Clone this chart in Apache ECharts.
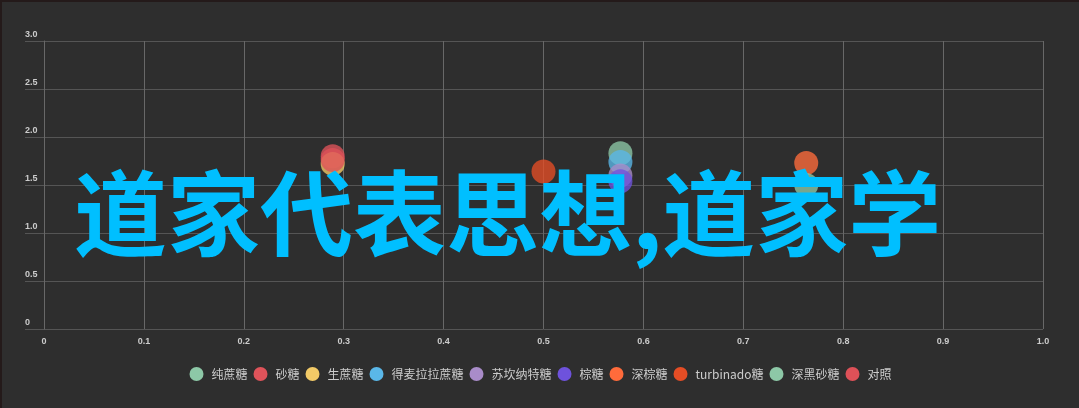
<!DOCTYPE html>
<html>
<head>
<meta charset="utf-8">
<script src="https://cdn.jsdelivr.net/npm/echarts@6/dist/echarts.min.js"></script>
<style>
html,body{margin:0;padding:0;background:#241a1a;width:1079px;height:408px;overflow:hidden;}
#chart{position:absolute;left:2px;top:2px;width:1077px;height:406px;}
</style>
</head>
<body>
<div id="chart"></div>
<script>
// ---- data ----
const seriesNames = ['纯蔗糖','砂糖','生蔗糖','得麦拉拉蔗糖','苏坎纳特糖','棕糖','深棕糖','turbinado糖','深黑砂糖','对照'];
const xValues = [0.577, 0.289, 0.289, 0.577, 0.577, 0.577, 0.763, 0.5, 0.763, 0.289];
const yValues = [1.83, 1.80, 1.72, 1.74, 1.60, 1.54, 1.73, 1.64, 1.50, 1.76];
const xTicks = [0,0.1,0.2,0.3,0.4,0.5,0.6,0.7,0.8,0.9,1.0];
const yTicks = [0,0.5,1.0,1.5,2.0,2.5,3.0];
const overlayText = '道家代表思想,道家学';

const palette = ['#8dc8a7','#df535a','#f2ca67','#5ab7e8','#a98cc9','#6e52dc','#ff6b3b','#e54d25','#8dc8a7','#de5158'];

const fmt = v => (v === 0 ? '0' : v.toFixed(1));

const chart = echarts.init(document.getElementById('chart'), null, {renderer:'canvas'});
const series = seriesNames.map((name, i) => ({
  name: name,
  type: 'scatter',
  symbol: 'circle',
  symbolSize: 24,
  itemStyle: { color: palette[i], opacity: 0.78 },
  emphasis: { disabled: true },
  data: [[xValues[i], yValues[i]]]
}));

chart.setOption({
  backgroundColor: '#2e2e2e',
  animation: false,
  color: palette,
  grid: { left: 42, right: 36, top: 39, bottom: 79, containLabel: false },
  xAxis: {
    type: 'value',
    min: xTicks[0], max: xTicks[xTicks.length-1], interval: 0.1,
    axisLine: { show: false },
    axisTick: { show: false },
    splitLine: { show: true, lineStyle: { color: '#686868', width: 1 } },
    axisLabel: { color: '#cccccc', fontSize: 9, fontWeight: 'bold', fontFamily: 'Liberation Sans, Arial, sans-serif', margin: 8, formatter: fmt }
  },
  yAxis: {
    type: 'value',
    min: yTicks[0], max: yTicks[yTicks.length-1], interval: 0.5,
    axisLine: { show: true, lineStyle: { color: '#686868' } },
    axisTick: { show: true, length: 19, lineStyle: { color: '#555555' } },
    splitLine: { show: true, lineStyle: { color: '#555555', width: 1 } },
    axisLabel: { color: '#cccccc', fontSize: 9, fontWeight: 'bold', fontFamily: 'Liberation Sans, Arial, sans-serif',
      margin: 19, align: 'left', verticalAlign: 'bottom', padding: [0,0,2,0], formatter: fmt }
  },
  legend: {
    data: seriesNames,
    top: 360,
    left: 'center',
    icon: 'circle',
    itemWidth: 20,
    itemHeight: 14,
    itemGap: 6,
    itemStyle: { opacity: 1 },
    textStyle: { color: '#cccccc', fontSize: 12, fontFamily: '"Noto Sans CJK SC", sans-serif' }
  },
  graphic: [{
    type: 'text',
    x: 72, y: 212, z: 100,
    silent: true,
    style: {
      text: overlayText,
      fill: '#00bfff',
      font: 'bold 93px "Noto Sans CJK SC", sans-serif',
      verticalAlign: 'middle',
      align: 'left'
    }
  }],
  series: series
});
</script>
</body>
</html>
